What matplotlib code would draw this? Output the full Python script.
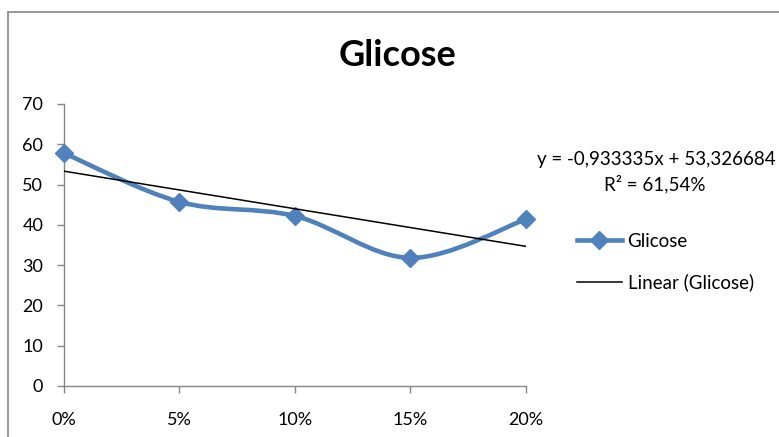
import numpy as np
import matplotlib.pyplot as plt
from matplotlib.path import Path
from matplotlib.patches import PathPatch, Rectangle
from matplotlib.lines import Line2D

plt.rcParams['font.family'] = ['Lato', 'DejaVu Sans']

# Glicose readings per concentration
concentrations = [0, 5, 10, 15, 20]
tick_labels = ["0%", "5%", "10%", "15%", "20%"]
glicose = [57.8, 45.7, 42.2, 31.8, 41.4]

# Linear trend as reported
slope = -0.933335
intercept = 53.326684
r2_label = "R² = 61,54%"
eq_label = "y = -0,933335x + 53,326684"

blue = "#4F81BD"
axis_grey = "#868686"


def smooth_path(xs, ys):
    # Catmull-Rom style bezier, like a spreadsheet's smoothed line
    pts = np.column_stack([xs, ys]).astype(float)
    verts = [pts[0]]
    codes = [Path.MOVETO]
    n = len(pts)
    for i in range(n - 1):
        p0 = pts[max(i - 1, 0)]
        p1 = pts[i]
        p2 = pts[i + 1]
        p3 = pts[min(i + 2, n - 1)]
        c1 = p1 + (p2 - p0) / 6.0
        c2 = p2 - (p3 - p1) / 6.0
        verts += [c1, c2, p2]
        codes += [Path.CURVE4] * 3
    return Path(verts, codes)


fig = plt.figure(figsize=(7.79, 4.37), dpi=100)
ax = fig.add_axes([64 / 779, 1 - 386 / 437, 462 / 779, 282 / 437])

# chart frame (runs off the right and bottom edges)
fig.patches.append(Rectangle((8 / 779, -0.1), 1.2, 1 - 12 / 437 + 0.1,
                             transform=fig.transFigure, fill=False,
                             edgecolor=axis_grey, linewidth=1.2))

ax.add_patch(PathPatch(smooth_path(concentrations, glicose), facecolor="none",
                       edgecolor=blue, linewidth=3.3, capstyle="round",
                       joinstyle="round", zorder=3))
ax.plot(concentrations, glicose, linestyle="none", marker="D", markersize=9.5,
        color=blue, zorder=4, clip_on=False)

trend_x = np.array([concentrations[0], concentrations[-1]])
ax.plot(trend_x, slope * trend_x + intercept, color="black", linewidth=1.1,
        zorder=5)

ax.set_xlim(0, 20)
ax.set_ylim(0, 70)
ax.set_xticks(concentrations)
ax.set_xticklabels(tick_labels)
ax.set_yticks(range(0, 71, 10))

for side in ("top", "right"):
    ax.spines[side].set_visible(False)
for side in ("left", "bottom"):
    ax.spines[side].set_color(axis_grey)
    ax.spines[side].set_linewidth(1.0)
ax.tick_params(axis="both", colors=axis_grey, labelcolor="black",
               length=5, width=1.0, labelsize=13)
ax.tick_params(axis="x", pad=14)
ax.tick_params(axis="y", pad=10)

fig.text(397 / 779, 1 - 55 / 437, "Glicose", ha="center", va="center",
         fontsize=26, fontweight="bold")

fig.text(537 / 779, 1 - 160 / 437, eq_label, ha="left", va="center",
         fontsize=13.5)
fig.text(655 / 779, 1 - 184 / 437, r2_label, ha="center", va="center",
         fontsize=13.5)

handles = [
    Line2D([], [], color=blue, linewidth=3.3, marker="D", markersize=9.5),
    Line2D([], [], color="black", linewidth=1.1),
]
fig.legend(handles, ["Glicose", "Linear (Glicose)"],
           loc="center left", bbox_to_anchor=(560 / 779, 1 - 262 / 437),
           frameon=False, fontsize=13.5, handlelength=2.4,
           labelspacing=1.25, handletextpad=0.3)

fig.savefig("out.png", dpi=100)
